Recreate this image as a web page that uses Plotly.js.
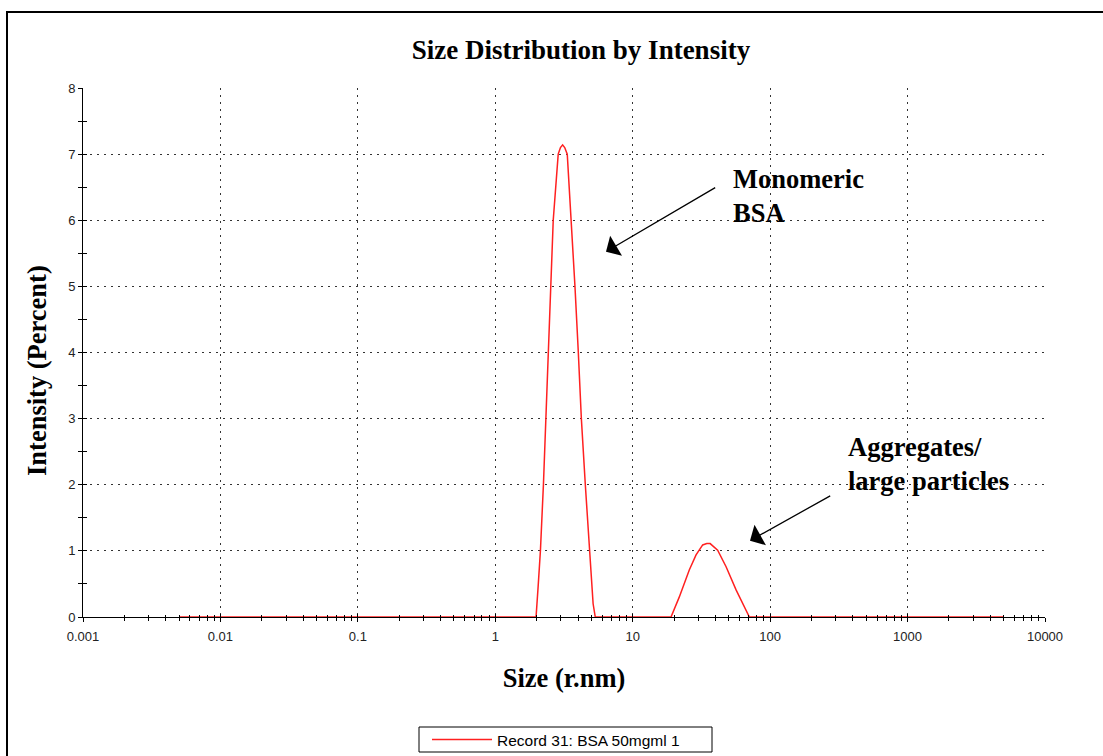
<!DOCTYPE html>
<html>
<head>
<meta charset="utf-8">
<script src="https://cdn.plot.ly/plotly-3.0.1.min.js"></script>
<style>
  html, body { margin: 0; padding: 0; background: #fff; }
  #chart { width: 1103px; height: 756px; }
</style>
</head>
<body>
<div id="chart"></div>
<script>
// ---- Data ----
var sizeNm = [0.005, 1.98, 2.05, 2.13, 2.24, 2.34, 2.43, 2.54, 2.64, 2.87, 2.98, 3.09, 3.2, 3.34, 3.57, 3.80, 4.02, 4.23, 4.52, 4.83, 5.15, 5.34,
              19.0, 21.8, 25.8, 28.9, 32.3, 34.6, 36.6, 41.5, 47.8, 56.5, 68.6, 70.6, 5000];
var intensityPct = [0, 0, 0.46, 1.0, 2.0, 3.0, 4.0, 5.0, 6.0, 7.0, 7.1, 7.14, 7.1, 7.0, 6.0, 5.0, 4.0, 3.0, 2.0, 1.0, 0.2, 0,
                    0, 0.3, 0.71, 0.94, 1.09, 1.11, 1.11, 1.01, 0.76, 0.41, 0.06, 0, 0];
var seriesName = 'Record 31: BSA 50mgml 1';

var xTickVals = [0.001, 0.01, 0.1, 1, 10, 100, 1000, 10000];
var xTickText = ['0.001', '0.01', '0.1', '1', '10', '100', '1000', '10000'];
var yTickVals = [0, 1, 2, 3, 4, 5, 6, 7, 8];
var yMinorVals = [0.5, 1.5, 2.5, 3.5, 4.5, 5.5, 6.5, 7.5];

var xMinorVals = [];
for (var d = 0; d < xTickVals.length - 1; d++) {
  for (var m = 2; m <= 9; m++) xMinorVals.push(xTickVals[d] * m);
}

var serif = '"Liberation Serif", "Times New Roman", Times, serif';
var sans = '"Liberation Sans", Arial, sans-serif';

var trace = {
  x: sizeNm,
  y: intensityPct,
  type: 'scatter',
  mode: 'lines',
  name: seriesName,
  line: { color: '#ff2020', width: 1.5 },
  xaxis: 'x', yaxis: 'y'
};
// helper invisible trace so the overlay axes (inside tick halves) are drawn
var ghost = {
  x: [0.001, 10000], y: [0, 8], type: 'scatter', mode: 'markers',
  marker: { opacity: 0 }, showlegend: false, hoverinfo: 'skip',
  xaxis: 'x2', yaxis: 'y2'
};

var gridDash = '2px,5px';

var layout = {
  width: 1103, height: 756,
  paper_bgcolor: '#fff', plot_bgcolor: '#fff',
  margin: { l: 83, r: 58, t: 88, b: 139, pad: 0 },
  showlegend: true,
  title: {
    text: 'Size Distribution by Intensity',
    font: { family: serif, size: 27, color: '#000', weight: 'bold' },
    xref: 'container', x: 581 / 1103, xanchor: 'center',
    yref: 'container', y: 1 - 50 / 756, yanchor: 'middle'
  },
  xaxis: {
    type: 'log',
    range: [-3, 4],
    tickmode: 'array', tickvals: xTickVals, ticktext: xTickText,
    ticks: 'outside', ticklen: 4, tickwidth: 1, tickcolor: '#000',
    ticklabelstandoff: 3,
    minor: { tickmode: 'array', tickvals: xMinorVals, ticks: 'outside', ticklen: 3, tickwidth: 1, tickcolor: '#000', showgrid: false },
    showgrid: true, gridcolor: '#333', gridwidth: 1, griddash: gridDash,
    showline: true, linecolor: '#000', linewidth: 1,
    zeroline: false,
    tickfont: { family: sans, size: 13, color: '#222' },
    title: { text: 'Size (r.nm)', font: { family: serif, size: 26.5, color: '#000', weight: 'bold' }, standoff: 25 },
    layer: 'below traces',
    fixedrange: true
  },
  yaxis: {
    range: [0, 8],
    tickmode: 'array', tickvals: yTickVals,
    ticks: 'outside', ticklen: 4, tickwidth: 1, tickcolor: '#000',
    minor: { tickmode: 'array', tickvals: yMinorVals, ticks: 'outside', ticklen: 4, tickwidth: 1, tickcolor: '#000', showgrid: false },
    showgrid: true, gridcolor: '#333', gridwidth: 1, griddash: gridDash,
    showline: true, linecolor: '#000', linewidth: 1,
    zeroline: false,
    tickfont: { family: sans, size: 13, color: '#222' },
    layer: 'below traces',
    fixedrange: true
  },
  xaxis2: {
    type: 'log', range: [-3, 4], overlaying: 'x', anchor: 'y2', side: 'bottom',
    tickmode: 'array', tickvals: xTickVals, showticklabels: false,
    ticks: 'inside', ticklen: 3, tickwidth: 1, tickcolor: '#000',
    minor: { tickmode: 'array', tickvals: xMinorVals, ticks: 'inside', ticklen: 2, tickwidth: 1, tickcolor: '#000', showgrid: false },
    showgrid: false, showline: false, zeroline: false, fixedrange: true
  },
  yaxis2: {
    range: [0, 8], overlaying: 'y', anchor: 'x2', side: 'left',
    tickmode: 'array', tickvals: yTickVals, showticklabels: false,
    ticks: 'inside', ticklen: 4, tickwidth: 1, tickcolor: '#000',
    minor: { tickmode: 'array', tickvals: yMinorVals, ticks: 'inside', ticklen: 4, tickwidth: 1, tickcolor: '#000', showgrid: false },
    showgrid: false, showline: false, zeroline: false, fixedrange: true
  },
  legend: {
    orientation: 'h',
    x: 427 / 1103, xref: 'container', xanchor: 'left',
    y: 1 - 723 / 756, yref: 'container', yanchor: 'top',
    bgcolor: 'rgba(0,0,0,0)', borderwidth: 0,
    itemwidth: 60,
    font: { family: sans, size: 15.5, color: '#000' }
  },
  shapes: [
    {
      type: 'rect', xref: 'paper', yref: 'paper',
      x0: (7 - 83) / 962, x1: 1.2, y0: -0.5, y1: (617 - 12) / 529,
      line: { color: '#000', width: 2 }, fillcolor: 'rgba(0,0,0,0)', layer: 'below'
    },
    {
      // legend frame
      type: 'rect', xref: 'paper', yref: 'paper',
      x0: (419 - 83) / 962, x1: (712 - 83) / 962, y0: (617 - 752) / 529, y1: (617 - 727) / 529,
      line: { color: '#000', width: 1 }, fillcolor: 'rgba(0,0,0,0)', layer: 'above'
    }
  ],
  annotations: [
    {
      text: 'Intensity (Percent)', showarrow: false, textangle: -90,
      xref: 'paper', yref: 'paper', x: (37 - 83) / 962, y: (617 - 371) / 529,
      xanchor: 'center', yanchor: 'middle',
      font: { family: serif, size: 26.5, color: '#000', weight: 'bold' }
    },
    {
      text: 'Monomeric<br>BSA', showarrow: false,
      xref: 'paper', yref: 'paper', x: (731 - 83) / 962, y: (617 - 162) / 529,
      xanchor: 'left', yanchor: 'top', align: 'left',
      font: { family: serif, size: 26.5, color: '#000', weight: 'bold' }
    },
    {
      text: 'Aggregates/<br>large particles', showarrow: false,
      xref: 'paper', yref: 'paper', x: (846 - 83) / 962, y: (617 - 430) / 529,
      xanchor: 'left', yanchor: 'top', align: 'left',
      font: { family: serif, size: 26.5, color: '#000', weight: 'bold' }
    },
    {
      text: '', showarrow: true, arrowhead: 1, arrowsize: 3, arrowwidth: 1.3, arrowcolor: '#000',
      xref: 'paper', yref: 'paper', x: (606 - 83) / 962, y: (617 - 251.7) / 529,
      ax: 110.7, ay: -65, standoff: 0
    },
    {
      text: '', showarrow: true, arrowhead: 1, arrowsize: 3, arrowwidth: 1.3, arrowcolor: '#000',
      xref: 'paper', yref: 'paper', x: (750 - 83) / 962, y: (617 - 540.7) / 529,
      ax: 81.7, ay: -45.7, standoff: 0
    }
  ]
};

Plotly.newPlot('chart', [trace, ghost], layout, { displayModeBar: false, staticPlot: true });
</script>
</body>
</html>
